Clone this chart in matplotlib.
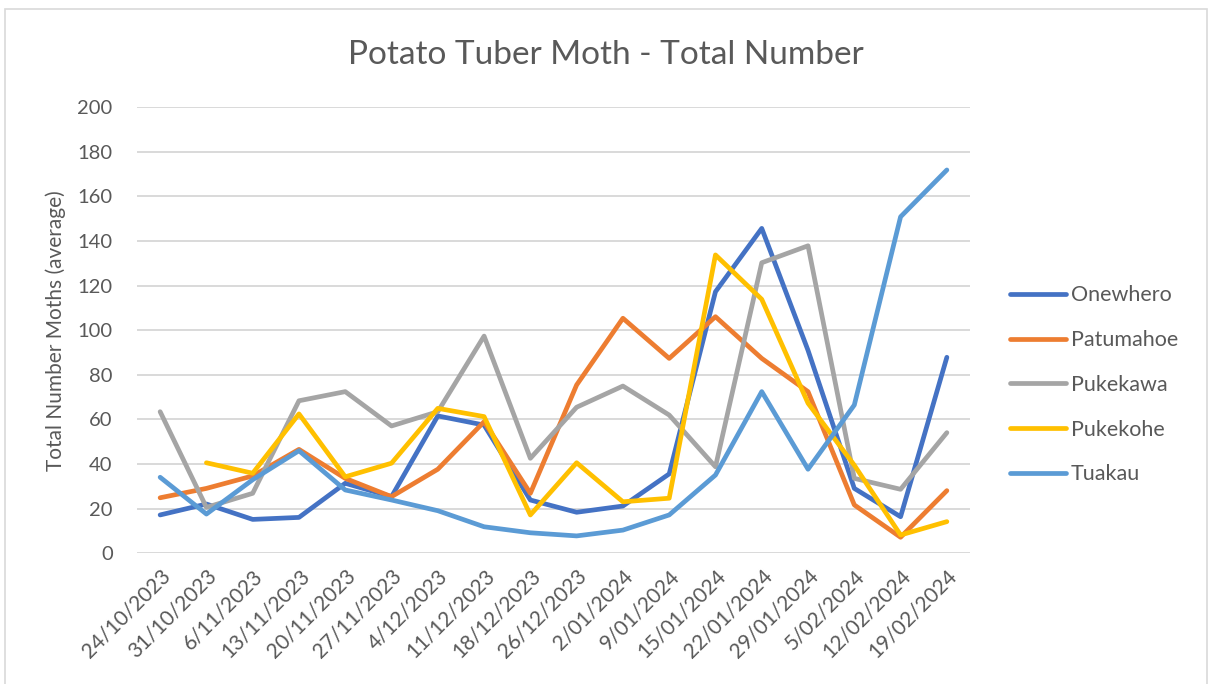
import numpy as np
import matplotlib
matplotlib.use('Agg')
from matplotlib import pyplot as plt
from matplotlib.patches import Rectangle

plt.rcParams['font.family'] = ['Lato', 'DejaVu Sans']

dates = ['24/10/2023', '31/10/2023', '6/11/2023', '13/11/2023', '20/11/2023',
         '27/11/2023', '4/12/2023', '11/12/2023', '18/12/2023', '26/12/2023',
         '2/01/2024', '9/01/2024', '15/01/2024', '22/01/2024', '29/01/2024',
         '5/02/2024', '12/02/2024', '19/02/2024']

onewhero = [17.2, 22.1, 15.2, 16.1, 31.4, 25.4, 61.6, 57.5, 23.9,
            18.4, 21.2, 35.6, 117.3, 145.7, 91.0, 29.1, 16.4, 87.9]
patumahoe = [24.9, 29.1, 34.7, 46.6, 33.6, 25.4, 37.7, 59.0, 26.9,
             75.5, 105.4, 87.4, 106.1, 87.4, 72.5, 21.7, 7.2, 28.1]
pukekawa = [63.5, 20.6, 26.9, 68.4, 72.5, 57.1, 63.5, 97.4, 42.6,
            65.5, 75.0, 62.0, 38.8, 130.3, 137.9, 33.6, 28.7, 54.1]
pukekohe = [np.nan, 40.6, 35.9, 62.5, 34.3, 40.4, 65.0, 61.3, 17.2,
            40.6, 23.1, 24.7, 133.8, 113.9, 67.3, 39.5, 8.2, 14.2]
tuakau = [34.1, 17.6, 33.0, 46.0, 28.4, 23.9, 19.1, 11.9, 9.2,
          7.8, 10.4, 17.2, 35.1, 72.5, 37.7, 66.5, 150.9, 171.9]

series = [('Onewhero', onewhero, '#4472C4'),
          ('Patumahoe', patumahoe, '#ED7D31'),
          ('Pukekawa', pukekawa, '#A5A5A5'),
          ('Pukekohe', pukekohe, '#FFC000'),
          ('Tuakau', tuakau, '#5B9BD5')]

txt = '#595959'
W, H = 1208, 684
fig = plt.figure(figsize=(W / 100, H / 100), dpi=100)
ax = fig.add_axes([137 / W, 1 - 553.3 / H, 833 / W, 446 / H])

x = np.arange(len(dates))
for name, vals, col in series:
    ax.plot(x, vals, color=col, lw=3.4, label=name,
            solid_capstyle='round', solid_joinstyle='round')

ax.set_xlim(-0.5, len(dates) - 0.5)
ax.set_ylim(0, 200)
ax.set_yticks(range(0, 201, 20))
ax.set_xticks(x)
ax.set_xticklabels(dates, rotation=45, ha='right', rotation_mode='anchor')
ax.tick_params(length=0, colors=txt)
ax.tick_params(axis='y', pad=17.5, labelsize=14.5)
ax.tick_params(axis='x', pad=9, labelsize=15)
ax.grid(axis='y', color='#D9D9D9', lw=1.4)
ax.set_axisbelow(True)
for s in ax.spines.values():
    s.set_visible(False)

ax.set_ylabel('Total Number Moths (average)', color=txt, fontsize=15, labelpad=8)
fig.text(606 / W, 1 - 55.5 / H, 'Potato Tuber Moth - Total Number',
         ha='center', va='center', fontsize=24, color=txt)

leg = fig.legend(loc='upper left', bbox_to_anchor=(991 / W, 1 - 266 / H),
                 frameon=False, fontsize=15.5, handlelength=2.6,
                 handletextpad=0.2, labelspacing=1.15, labelcolor=txt)

fig.patches.append(Rectangle((5 / W, -0.05), 1201.5 / W, 1.05 - 9 / H,
                             transform=fig.transFigure, fill=False,
                             ec='#D9D9D9', lw=1.2))

fig.savefig('out.png', dpi=100)
